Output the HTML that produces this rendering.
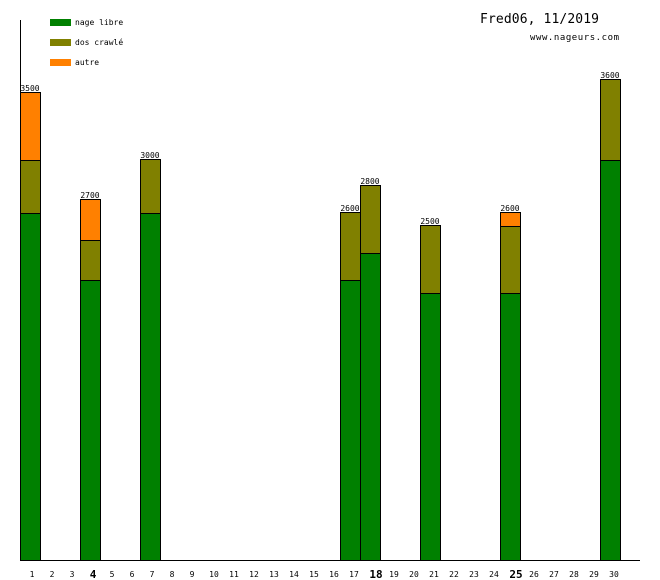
<!DOCTYPE html><html><head><meta charset="utf-8"><style>body{margin:0;background:#fff}svg{display:block}text{font-family:"DejaVu Sans Mono","Liberation Mono",monospace}</style></head><body>
<svg width="660" height="580" xmlns="http://www.w3.org/2000/svg">
<rect width="660" height="580" fill="#fff"/>
<g stroke="#000" stroke-width="1">
<rect x="20.5" y="213.5" width="20" height="347" fill="#008000"/>
<rect x="20.5" y="160.5" width="20" height="53" fill="#808000"/>
<rect x="20.5" y="92.5" width="20" height="68" fill="#ff8000"/>
<rect x="80.5" y="280.5" width="20" height="280" fill="#008000"/>
<rect x="80.5" y="240.5" width="20" height="40" fill="#808000"/>
<rect x="80.5" y="199.5" width="20" height="41" fill="#ff8000"/>
<rect x="140.5" y="213.5" width="20" height="347" fill="#008000"/>
<rect x="140.5" y="159.5" width="20" height="54" fill="#808000"/>
<rect x="340.5" y="280.5" width="20" height="280" fill="#008000"/>
<rect x="340.5" y="212.5" width="20" height="68" fill="#808000"/>
<rect x="360.5" y="253.5" width="20" height="307" fill="#008000"/>
<rect x="360.5" y="185.5" width="20" height="68" fill="#808000"/>
<rect x="420.5" y="293.5" width="20" height="267" fill="#008000"/>
<rect x="420.5" y="225.5" width="20" height="68" fill="#808000"/>
<rect x="500.5" y="293.5" width="20" height="267" fill="#008000"/>
<rect x="500.5" y="226.5" width="20" height="67" fill="#808000"/>
<rect x="500.5" y="212.5" width="20" height="14" fill="#ff8000"/>
<rect x="600.5" y="160.5" width="20" height="400" fill="#008000"/>
<rect x="600.5" y="79.5" width="20" height="81" fill="#808000"/>
</g>
<line x1="20.5" y1="20" x2="20.5" y2="561" stroke="#000"/>
<line x1="20" y1="560.5" x2="640" y2="560.5" stroke="#000"/>
<g font-size="8" text-anchor="middle" fill="#000">
<text x="30" y="91">3500</text><text x="90" y="198">2700</text><text x="150" y="158">3000</text>
<text x="350" y="211">2600</text><text x="370" y="184">2800</text><text x="430" y="224">2500</text>
<text x="510" y="211">2600</text><text x="610" y="78">3600</text>
</g>
<rect x="50" y="19" width="21" height="7" fill="#008000"/>
<rect x="50" y="39" width="21" height="7" fill="#808000"/>
<rect x="50" y="59" width="21" height="7" fill="#ff8000"/>
<g font-size="8" fill="#000">
<text x="75" y="25">nage libre</text><text x="75" y="45">dos crawlé</text><text x="75" y="65">autre</text>
</g>
<text x="480" y="23" font-size="13" fill="#000" textLength="119">Fred06, 11/2019</text>
<text x="530" y="40" font-size="9" fill="#000" textLength="89">www.nageurs.com</text>
<g font-size="8" text-anchor="middle" fill="#000">
<text x="32" y="577">1</text><text x="52" y="577">2</text><text x="72" y="577">3</text>
<text x="93" y="578" font-size="11" font-weight="bold">4</text>
<text x="112" y="577">5</text><text x="132" y="577">6</text><text x="152" y="577">7</text><text x="172" y="577">8</text><text x="192" y="577">9</text>
<text x="214" y="577">10</text><text x="234" y="577">11</text><text x="254" y="577">12</text><text x="274" y="577">13</text><text x="294" y="577">14</text><text x="314" y="577">15</text><text x="334" y="577">16</text><text x="354" y="577">17</text>
<text x="376" y="578" font-size="11" font-weight="bold">18</text>
<text x="394" y="577">19</text><text x="414" y="577">20</text><text x="434" y="577">21</text><text x="454" y="577">22</text><text x="474" y="577">23</text><text x="494" y="577">24</text>
<text x="516" y="578" font-size="11" font-weight="bold">25</text>
<text x="534" y="577">26</text><text x="554" y="577">27</text><text x="574" y="577">28</text><text x="594" y="577">29</text><text x="614" y="577">30</text>
</g>
</svg></body></html>
